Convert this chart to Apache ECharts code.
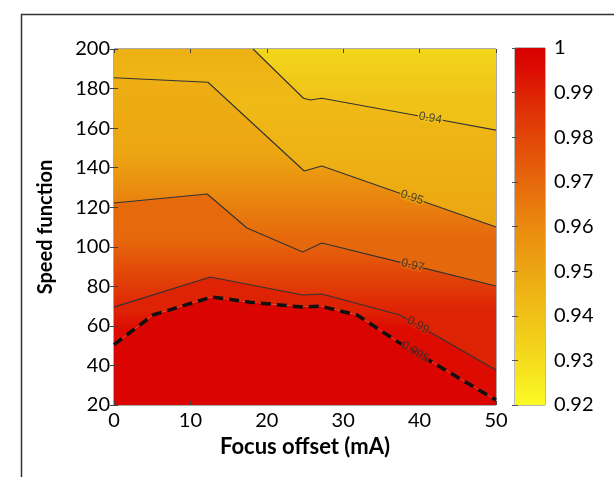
<!DOCTYPE html>
<html><head><meta charset="utf-8">
<script src="https://cdn.jsdelivr.net/npm/echarts@6/dist/echarts.min.js"></script>
<style>html,body{margin:0;padding:0;background:#fff}#c{width:614px;height:477px}</style>
</head><body><div id="c"></div>
<script>
// ---- data ----
const xTicks = [0, 10, 20, 30, 40, 50];
const yTicks = [20, 40, 60, 80, 100, 120, 140, 160, 180, 200];
const colorbarTicks = [0.92, 0.93, 0.94, 0.95, 0.96, 0.97, 0.98, 0.99, 1];
const levels = [0.995, 0.99, 0.97, 0.95, 0.94];
const line0995 = [[0,50.5],[5.1,65.5],[12.8,74.6],[17.8,72.0],[24.7,69.5],[27.0,70.0],[31.8,65.5],[37.4,51.3],[39.4,46.8],[50,22.5]];
const line099  = [[0,69.5],[12.6,84.7],[24.7,75.6],[27.2,76.1],[37.4,65.5],[39.8,60.3],[50,37.7]];
const line097  = [[0,122.1],[12.2,126.7],[17.4,109.5],[24.7,97.4],[27.2,101.9],[39.1,90.6],[50,80.2]];
const line095  = [[0,185.5],[12.3,183.2],[24.9,138.3],[27.2,140.8],[39.0,124.9],[50,110.0]];
const line094  = [[18.2,200],[24.8,175.1],[25.7,174.2],[27.2,175.1],[41.4,165.1],[50,159.0]];
const labelIndex = [8, 5, 5, 4, 4];   // which point of each contour carries its label
const labelText = ['0.995', '0.99', '0.97', '0.95', '0.94'];

// ---- styles ----
const cmapV = [1.00, 0.995, 0.99, 0.98, 0.97, 0.96, 0.95, 0.94, 0.93, 0.92];
const cmapC = ['#d80000','#dc0c02','#de2204','#e24608','#e6680c','#ea8a10','#eca612','#f0c218','#f4dc1c','#fcfa24'];
const labelRot = [-31, -30, -14, -19, -10];
const FONT = 'Lato';

function hex2rgb(h){return [parseInt(h.slice(1,3),16),parseInt(h.slice(3,5),16),parseInt(h.slice(5,7),16)];}
function colorAt(v){
  if (v >= cmapV[0]) return cmapC[0];
  for (let i=0;i<cmapV.length-1;i++){
    const a=cmapV[i], b=cmapV[i+1];
    if (v<=a && v>=b){
      const t=(a-v)/(a-b), ca=hex2rgb(cmapC[i]), cb=hex2rgb(cmapC[i+1]);
      const c=ca.map((x,k)=>Math.round(x+(cb[k]-x)*t));
      return 'rgb('+c.join(',')+')';
    }
  }
  return cmapC[cmapC.length-1];
}
const lines = [line0995, line099, line097, line095, line094];
const yMax = yTicks[yTicks.length-1];
const meanY = a => a.reduce((s,p)=>s+p[1],0)/a.length;
const minY = a => Math.min(...a.map(p=>p[1]));

const series = [];
// background band below the highest contour
series.push({
  type:'line', data:line0995, xAxisIndex:0, yAxisIndex:0, symbol:'none', silent:true, z:1,
  lineStyle:{width:0, opacity:0},
  areaStyle:{origin:'start', opacity:1, color:colorAt(0.998)}
});
// filled bands: area above each contour, drawn from the highest level upwards
lines.forEach((ln,i)=>{
  const h = yMax - minY(ln);
  const off = v => Math.min(1, Math.max(0, (yMax - v)/h));
  let stops;
  if (levels[i] === 0.95){
    stops = [
      {offset:0, color:colorAt(0.9465)},
      {offset:0.3, color:colorAt(0.943)},
      {offset:0.65, color:colorAt(0.9465)},
      {offset:1, color:colorAt(0.95)}
    ];
  } else if (i < lines.length-1){
    const up = lines[i+1], ulv = levels[i+1];
    stops = [
      {offset:0, color:colorAt(ulv - 0.004)},
      {offset:off(meanY(up)), color:colorAt(ulv)},
      {offset:Math.max(off(meanY(up))+0.001, off(meanY(ln))), color:colorAt(levels[i])},
      {offset:1, color:colorAt(levels[i])}
    ];
  } else {
    stops = [
      {offset:0, color:colorAt(0.932)},
      {offset:off(meanY(ln)), color:colorAt(levels[i])},
      {offset:1, color:colorAt(levels[i])}
    ];
  }
  series.push({
    type:'line', data:ln, xAxisIndex:0, yAxisIndex:0, symbol:'none', silent:true, z:1,
    lineStyle:{width:0, opacity:0},
    areaStyle:{origin:'end', opacity:1, color:new echarts.graphic.LinearGradient(0,0,0,1,stops)}
  });
});
// contour lines
lines.forEach((ln,i)=>{
  const dashed = levels[i] === 0.995;
  series.push({
    type:'line', data:ln, xAxisIndex:0, yAxisIndex:0, symbol:'none', silent:true, z:3,
    lineStyle: dashed ? {color:'#111', width:3.5, type:[10,6]} : {color:'#333', width:1.1}
  });
});
// contour labels
series.push({
  type:'scatter', xAxisIndex:0, yAxisIndex:0, z:4, silent:true, symbolSize:1,
  itemStyle:{color:'rgba(0,0,0,0)'},
  data: lines.map((ln,i)=>({
    value: ln[labelIndex[i]],
    label:{show:true, position:'inside', formatter:labelText[i], rotate:labelRot[i],
      fontFamily:'Liberation Sans', fontSize:12, color:'#2a2a2a',
      textBorderColor:colorAt(levels[i]), textBorderWidth:3}
  }))
});
// colorbar
const cbMin = colorbarTicks[0], cbMax = colorbarTicks[colorbarTicks.length-1];
const cbStops = cmapV.map((v,i)=>({offset:(cbMax-v)/(cbMax-cbMin), color:cmapC[i]}));
series.push({
  type:'custom', xAxisIndex:2, yAxisIndex:2, silent:true, z:1, data:[[0,cbMin]],
  renderItem:(params, api)=>{
    const p0 = api.coord([0, cbMax]), p1 = api.coord([1, cbMin]);
    return {type:'rect', shape:{x:p0[0], y:p0[1], width:p1[0]-p0[0], height:p1[1]-p0[1]},
      style:{fill:new echarts.graphic.LinearGradient(0,0,0,1,cbStops)}};
  }
});

const tickLabel = {fontFamily:FONT, fontSize:20, color:'#000'};
const tickStyle = {inside:true, length:4, lineStyle:{color:'#444'}};
const chart = echarts.init(document.getElementById('c'), null, {renderer:'canvas'});
chart.setOption({
  animation:false,
  backgroundColor:'#fff',
  graphic:[{type:'rect', left:19, top:12, shape:{width:640, height:520}, style:{fill:'none', stroke:'#333', lineWidth:1.5}, z:10, silent:true}],
  grid:[
    {left:114, top:49, width:382, height:356, show:true, backgroundColor:'transparent', borderColor:'#555', borderWidth:1},
    {left:515, top:48, width:30, height:357, show:true, borderColor:'#777', borderWidth:1, backgroundColor:'transparent'}
  ],
  xAxis:[
    {type:'value', gridIndex:0, min:xTicks[0], max:xTicks[xTicks.length-1], interval:10, z:5,
     axisLine:{show:false}, splitLine:{show:false}, axisTick:tickStyle,
     axisLabel:Object.assign({margin:6}, tickLabel),
     name:'Focus offset (mA)', nameLocation:'middle', nameGap:27,
     nameTextStyle:{fontFamily:FONT, fontSize:22, fontWeight:'bold', color:'#000'}},
    {type:'value', gridIndex:0, position:'top', min:xTicks[0], max:xTicks[xTicks.length-1], interval:10, z:5,
     axisLine:{show:false}, splitLine:{show:false}, axisLabel:{show:false}, axisTick:tickStyle},
    {type:'value', gridIndex:1, min:0, max:1, show:false}
  ],
  yAxis:[
    {type:'value', gridIndex:0, min:yTicks[0], max:yMax, interval:20, z:5,
     axisLine:{show:false}, splitLine:{show:false}, axisTick:tickStyle,
     axisLabel:Object.assign({margin:4}, tickLabel),
     name:'Speed function', nameLocation:'middle', nameGap:58,
     nameTextStyle:{fontFamily:FONT, fontSize:20, fontWeight:'bold', color:'#000'}},
    {type:'value', gridIndex:0, position:'right', min:yTicks[0], max:yMax, interval:20, z:5,
     axisLine:{show:false}, splitLine:{show:false}, axisLabel:{show:false}, axisTick:tickStyle},
    {type:'value', gridIndex:1, position:'right', min:cbMin, max:cbMax, interval:0.01, z:5,
     axisLine:{show:false}, splitLine:{show:false},
     axisTick:{inside:true, length:3, lineStyle:{color:'#555'}},
     axisLabel:Object.assign({margin:9, formatter:v=>(Math.abs(v-1)<1e-9?'1':v.toFixed(2))}, tickLabel)},
    {type:'value', gridIndex:1, position:'left', min:cbMin, max:cbMax, interval:0.01, z:5,
     axisLine:{show:false}, splitLine:{show:false}, axisLabel:{show:false},
     axisTick:{inside:true, length:3, lineStyle:{color:'#555'}}}
  ],
  series: series
});
</script></body></html>
